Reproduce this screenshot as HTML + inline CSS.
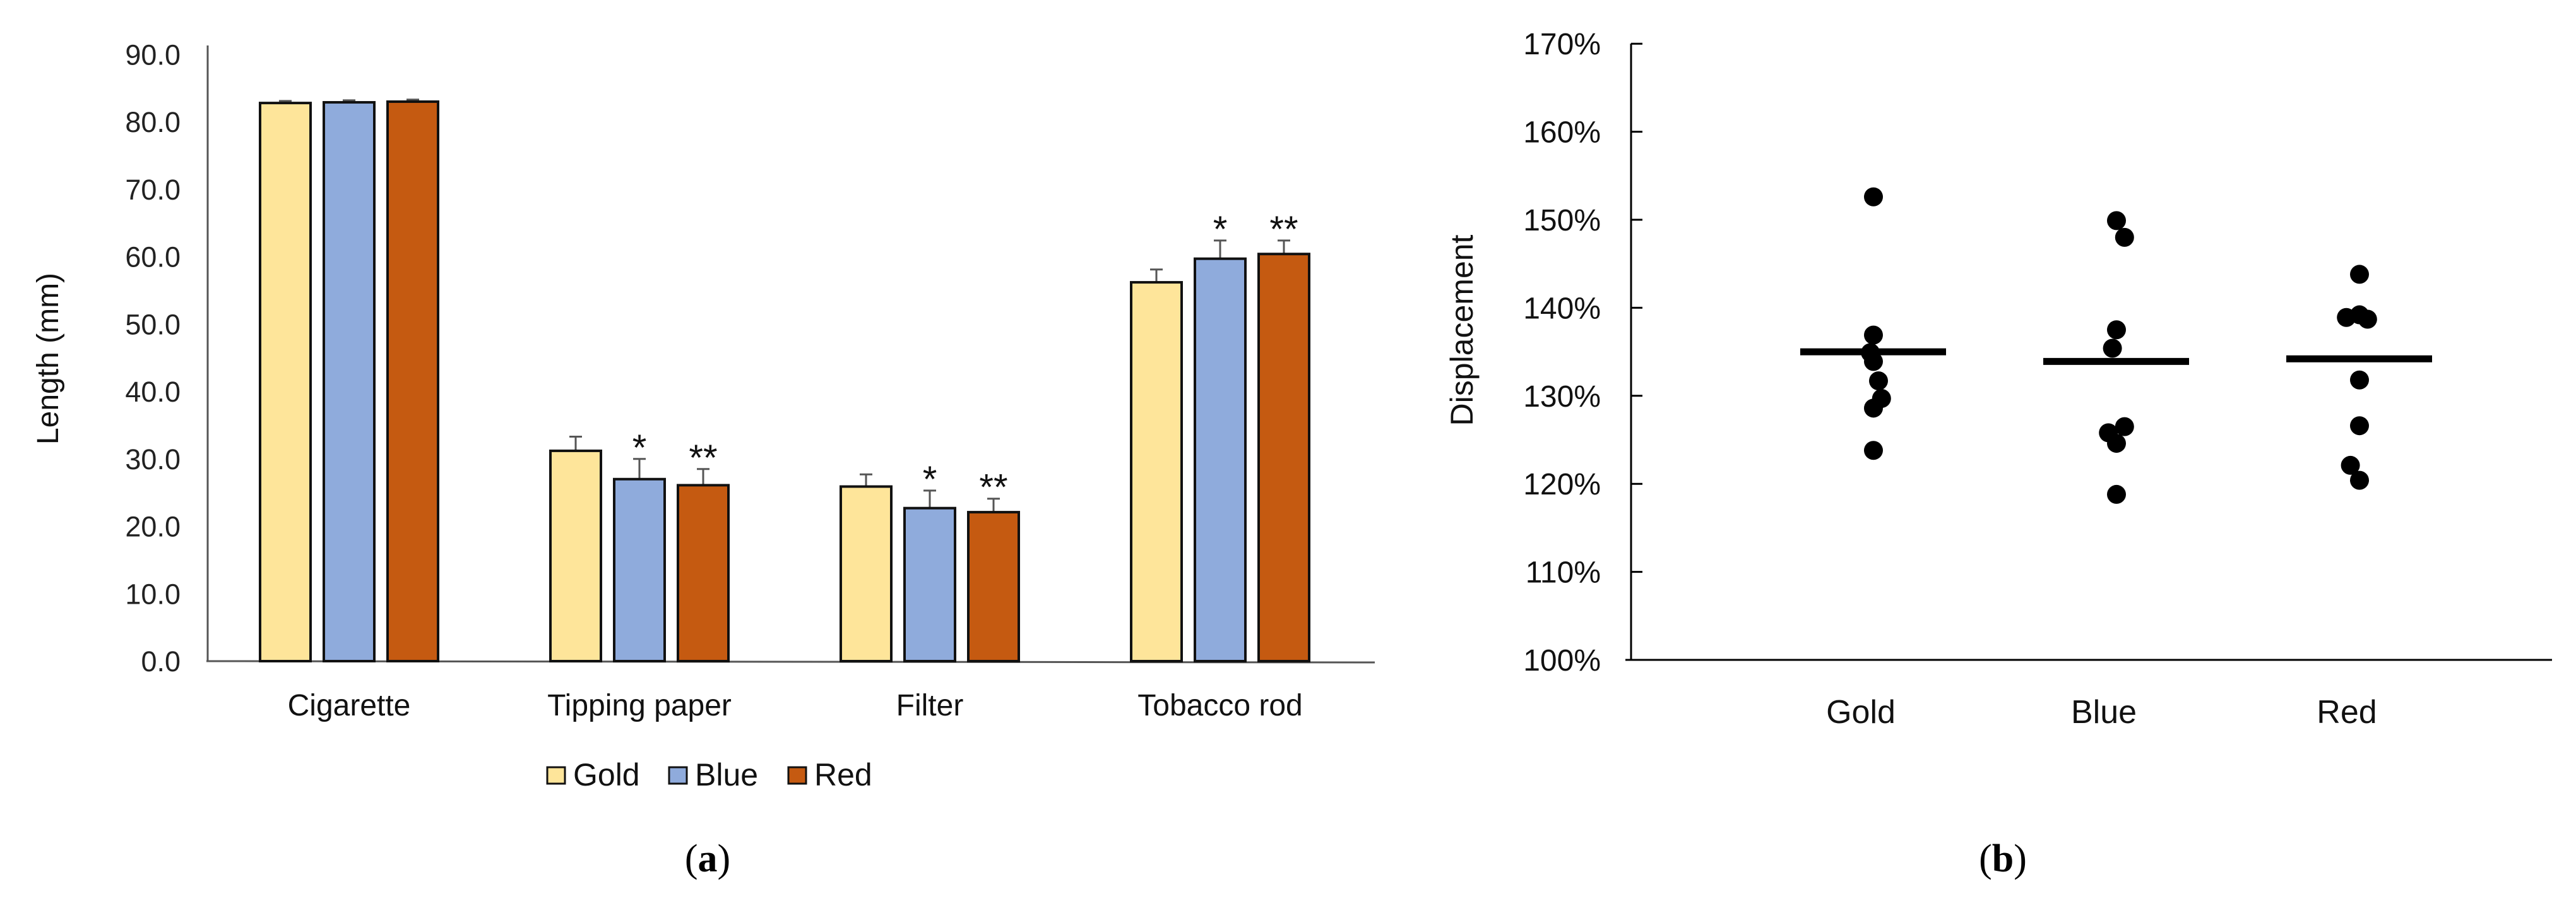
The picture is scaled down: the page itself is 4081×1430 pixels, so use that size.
<!DOCTYPE html>
<html><head><meta charset="utf-8"><style>
html,body{margin:0;padding:0;background:#fff;}
svg{display:block;font-family:"Liberation Sans",Arial,sans-serif;}
</style></head><body>
<svg id="fig" width="4081" height="1430" viewBox="0 0 4081 1430" xmlns="http://www.w3.org/2000/svg">
<g id="chartA"></g>
<g id="chartB"></g>
</svg>
<script>
// Chart (a) data
const categories = ["Cigarette","Tipping paper","Filter","Tobacco rod"];
const seriesNames = ["Gold","Blue","Red"];
const goldVals = [82.8, 31.2, 25.9, 56.2];
const blueVals = [82.9, 27.0, 22.7, 59.7];
const redVals  = [83.0, 26.1, 22.1, 60.4];
const goldErr = [0.3, 2.1, 1.8, 1.9];
const blueErr = [0.3, 3.0, 2.6, 2.7];
const redErr  = [0.3, 2.4, 2.0, 2.0];
const blueSig = ["", "*", "*", "*"];
const redSig  = ["", "**", "**", "**"];
const yTicksA = [0,10,20,30,40,50,60,70,80,90];

// Chart (b) data
const groupsB = ["Gold","Blue","Red"];
const goldPts = [152.6,136.9,134.9,133.9,131.7,129.7,128.6,123.8];
const bluePts = [149.9,148.0,137.5,135.4,126.5,125.8,124.6,118.8];
const redPts  = [143.8,138.9,139.2,138.7,131.8,126.6,122.1,120.4];
const goldJit = [0,0,-0.3,0,0.5,0.8,0,0];
const blueJit = [0,0.8,0,-0.4,0.8,-0.8,0,0];
const redJit  = [0,-1.3,0,0.8,0,0,-0.9,0];
const medians = [135.0,133.9,134.2];
const yTicksB = [100,110,120,130,140,150,160,170];

const NS="http://www.w3.org/2000/svg";
function mk(parent,tag,attrs,text){const e=document.createElementNS(NS,tag);for(const k in attrs)e.setAttribute(k,attrs[k]);if(text!==undefined)e.textContent=text;parent.appendChild(e);return e;}

// ---- chart A ----
const A=document.getElementById('chartA');
const yA=v=>1047-v*10.675;
const groupX=i=>412+i*460;
const barW=80, pitch=101;
mk(A,'line',{x1:329,y1:72,x2:329,y2:1047,stroke:'#555','stroke-width':3});
const xa=mk(A,'line',{x1:327,y1:1047,x2:2178,y2:1049,stroke:'#555','stroke-width':3});

yTicksA.forEach(t=>{
  const tx=mk(A,'text',{x:286,y:yA(t)+16,'text-anchor':'end','font-size':45,fill:'#222'},t.toFixed(1));
  
  
});
const yt=mk(A,'text',{x:0,y:0,'font-size':48,fill:'#111','text-anchor':'middle',transform:'translate(92,568) rotate(-90)'},'Length (mm)');


const colors=['#FEE59A','#8FABDC','#C55A11'];
const vals=[goldVals,blueVals,redVals], errs=[goldErr,blueErr,redErr];
categories.forEach((c,i)=>{
  for(let s=0;s<3;s++){
    const x=groupX(i)+s*pitch, v=vals[s][i], e=errs[s][i];
    const cx=x+barW/2;
    mk(A,'line',{x1:cx,y1:yA(v),x2:cx,y2:yA(v+e),stroke:'#555','stroke-width':3});
    mk(A,'line',{x1:cx-10,y1:yA(v+e),x2:cx+10,y2:yA(v+e),stroke:'#555','stroke-width':3});
    const r=mk(A,'rect',{x:x,y:yA(v),width:barW,height:1047-yA(v),fill:colors[s],stroke:'#111','stroke-width':4});
    
    
  }
  const sigs=[blueSig[i],redSig[i]];
  [1,2].forEach((s,k)=>{
    if(!sigs[k])return;
    const cx=groupX(i)+s*pitch+barW/2;
    const st=mk(A,'text',{x:cx,y:yA(vals[s][i]+errs[s][i])+2,'text-anchor':'middle','font-size':58,fill:'#111'},sigs[k]);
    
    
  });
  const cl=mk(A,'text',{x:groupX(i)+pitch+barW/2,y:1133,'text-anchor':'middle','font-size':48,fill:'#111'},c);
  
  
});
// legend
const legX=[867,1060,1249];
seriesNames.forEach((n,s)=>{
  const b=mk(A,'rect',{x:legX[s],y:1215,width:28,height:26,fill:colors[s],stroke:'#111','stroke-width':3});
  
  
  const t=mk(A,'text',{x:legX[s]+41,y:1244,'font-size':50,fill:'#111'},n);
  
  
});
const la=mk(A,'text',{x:1121,y:1380,'text-anchor':'middle','font-size':62,'font-family':'"Liberation Serif",serif',fill:'#000'});
la.innerHTML='(<tspan font-weight="bold">a</tspan>)';



// ---- chart B ----
const B=document.getElementById('chartB');
const yB=v=>1045-(v-100)*13.94;
const xB=i=>2968+i*385;
mk(B,'line',{x1:2584,y1:69,x2:2584,y2:1045,stroke:'#000','stroke-width':3});
mk(B,'line',{x1:2575,y1:1045,x2:4043,y2:1045,stroke:'#000','stroke-width':3});
yTicksB.forEach(t=>{
  mk(B,'line',{x1:2584,y1:yB(t),x2:2602,y2:yB(t),stroke:'#000','stroke-width':3});
  const tx=mk(B,'text',{x:2536,y:yB(t)+17,'text-anchor':'end','font-size':48,fill:'#111'},t+'%');
  
  
});
const yt2=mk(B,'text',{x:0,y:0,'font-size':50,fill:'#111','text-anchor':'middle',transform:'translate(2333,523) rotate(-90)'},'Displacement');


const pts=[goldPts,bluePts,redPts], jit=[goldJit,blueJit,redJit];
groupsB.forEach((g,i)=>{
  pts[i].forEach((v,k)=>{
    const c=mk(B,'circle',{cx:xB(i)+jit[i][k]*16,cy:yB(v),r:15,fill:'#000'});
    
    
  });
  const m=mk(B,'line',{x1:xB(i)-116,y1:yB(medians[i]),x2:xB(i)+115,y2:yB(medians[i]),stroke:'#000','stroke-width':11});
  
  
  const l=mk(B,'text',{x:xB(i)-20,y:1145,'text-anchor':'middle','font-size':52,fill:'#111'},g);
  
  
});
const lb=mk(B,'text',{x:3173,y:1380,'text-anchor':'middle','font-size':62,'font-family':'"Liberation Serif",serif',fill:'#000'});
lb.innerHTML='(<tspan font-weight="bold">b</tspan>)';


</script>
</body></html>
